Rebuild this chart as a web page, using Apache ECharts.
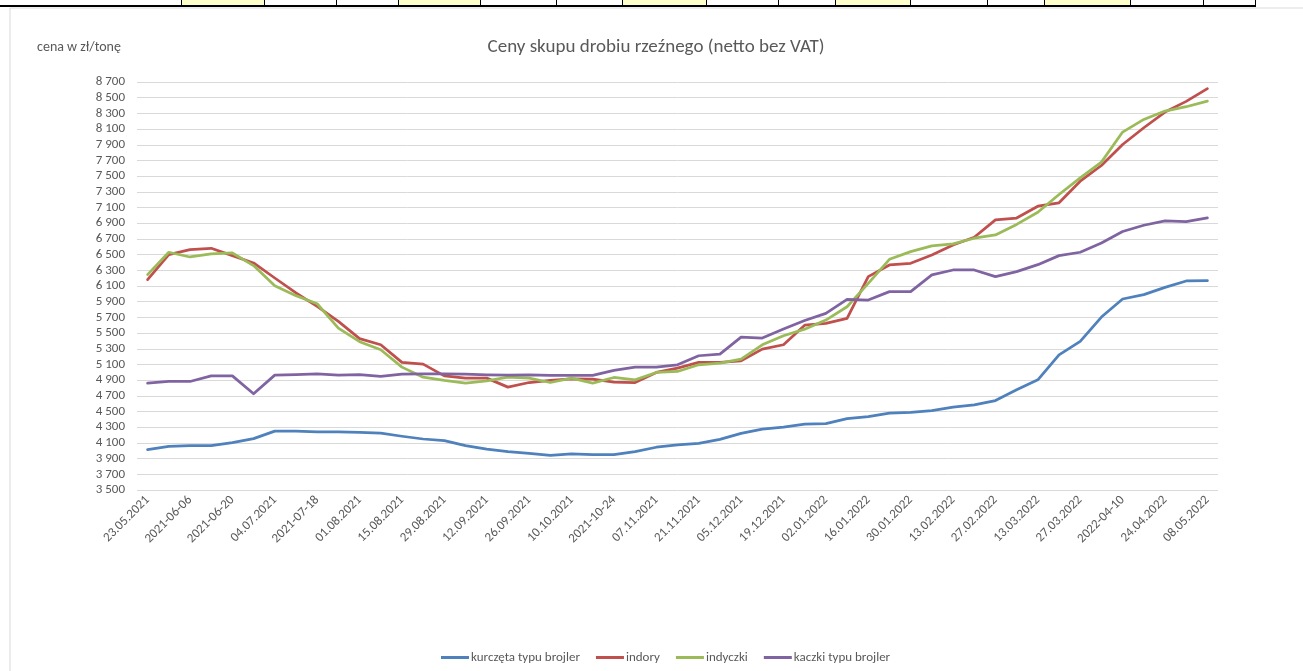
<!DOCTYPE html>
<html>
<head>
<meta charset="utf-8">
<script src="https://cdn.jsdelivr.net/npm/echarts@6/dist/echarts.min.js"></script>
<style>
  html, body { margin: 0; padding: 0; background: #fff; }
  #chart { width: 1303px; height: 671px; }
</style>
</head>
<body>
<div id="chart"></div>
<script>
const dates = [
  '23.05.2021', '30.05.2021', '2021-06-06', '13.06.2021', '2021-06-20', '27.06.2021',
  '04.07.2021', '11.07.2021', '2021-07-18', '25.07.2021', '01.08.2021', '08.08.2021',
  '15.08.2021', '22.08.2021', '29.08.2021', '05.09.2021', '12.09.2021', '19.09.2021',
  '26.09.2021', '03.10.2021', '10.10.2021', '17.10.2021', '2021-10-24', '31.10.2021',
  '07.11.2021', '14.11.2021', '21.11.2021', '28.11.2021', '05.12.2021', '12.12.2021',
  '19.12.2021', '26.12.2021', '02.01.2022', '09.01.2022', '16.01.2022', '23.01.2022',
  '30.01.2022', '06.02.2022', '13.02.2022', '20.02.2022', '27.02.2022', '06.03.2022',
  '13.03.2022', '20.03.2022', '27.03.2022', '03.04.2022', '2022-04-10', '17.04.2022',
  '24.04.2022', '01.05.2022', '08.05.2022'
];

const kurczeta = [
  4015, 4055, 4065, 4065, 4105, 4155, 4250, 4250, 4240, 4240, 4235, 4225, 4185,
  4150, 4130, 4065, 4020, 3990, 3968, 3940, 3960, 3952, 3952, 3990, 4045, 4075,
  4095, 4145, 4222, 4275, 4300, 4340, 4345, 4410, 4435, 4480, 4488, 4512, 4555,
  4585, 4640, 4778, 4904, 5222, 5394, 5704, 5934, 5990, 6083, 6164, 6168
];
const indory = [
  6181, 6500, 6564, 6581, 6487, 6394, 6202, 6011, 5840, 5649, 5430, 5351, 5126,
  5104, 4955, 4926, 4926, 4811, 4870, 4896, 4917, 4913, 4875, 4870, 4998, 5053,
  5126, 5126, 5147, 5296, 5351, 5600, 5624, 5687, 6219, 6368, 6389, 6496, 6623,
  6721, 6943, 6966, 7117, 7160, 7436, 7636, 7904, 8117, 8317, 8453, 8615
];
const indyczki = [
  6245, 6530, 6470, 6509, 6521, 6360, 6104, 5977, 5874, 5564, 5390, 5287, 5066,
  4938, 4896, 4862, 4892, 4938, 4926, 4870, 4926, 4862, 4934, 4904, 4998, 5011,
  5096, 5117, 5168, 5351, 5466, 5550, 5666, 5836, 6134, 6440, 6538, 6611, 6636,
  6709, 6751, 6885, 7040, 7266, 7479, 7679, 8062, 8223, 8330, 8385, 8457
];
const kaczki = [
  4862, 4883, 4883, 4955, 4955, 4726, 4964, 4972, 4981, 4964, 4970, 4947, 4977,
  4981, 4981, 4977, 4968, 4964, 4968, 4960, 4960, 4960, 5024, 5066, 5066, 5096,
  5211, 5232, 5449, 5436, 5551, 5660, 5751, 5930, 5921, 6028, 6028, 6241, 6304,
  6304, 6219, 6283, 6372, 6487, 6530, 6649, 6794, 6874, 6930, 6921, 6968
];

const seriesNames = ['kurczęta typu brojler', 'indory', 'indyczki', 'kaczki typu brojler'];
const colors = ['#4f81bd', '#c0504d', '#9bbb59', '#8064a2'];

const font = 'Carlito, "Liberation Sans Narrow", "Open Sans", sans-serif';
const txt = '#595959';

// spreadsheet row cut off above the chart
const cellEdges = [181, 264, 336, 398, 480, 556, 622, 706, 778, 835, 910, 987, 1044, 1130, 1203, 1255];
const yellowCells = [[181, 264], [398, 480], [622, 706], [835, 910], [1044, 1130]];

const graphics = [];
yellowCells.forEach(c => {
  graphics.push({ type: 'rect', shape: { x: c[0], y: 0, width: c[1] - c[0], height: 5 }, style: { fill: '#ffffcc' }, silent: true });
});
cellEdges.forEach(x => {
  graphics.push({ type: 'rect', shape: { x: x, y: 0, width: 1, height: 5 }, style: { fill: '#000' }, silent: true });
});
graphics.push({ type: 'rect', shape: { x: 0, y: 5, width: 1256, height: 2 }, style: { fill: '#000' }, silent: true });
// chart area border
graphics.push({ type: 'rect', shape: { x: 10, y: 8, width: 1320, height: 700 }, style: { fill: 'none', stroke: '#d9d9d9', lineWidth: 1 }, silent: true });

const chart = echarts.init(document.getElementById('chart'));
chart.setOption({
  animation: false,
  color: colors,
  textStyle: { fontFamily: font },
  graphic: graphics,
  title: [
    {
      text: 'Ceny skupu drobiu rzeźnego (netto bez VAT)',
      left: 651, top: 33, textAlign: 'center',
      textStyle: { fontSize: 19, fontWeight: 'normal', color: txt, fontFamily: font }
    },
    {
      text: 'cena w zł/tonę',
      left: 32, top: 35,
      textStyle: { fontSize: 14, fontWeight: 'normal', color: txt, fontFamily: font }
    }
  ],
  legend: {
    bottom: 2,
    left: 436,
    itemWidth: 28,
    itemHeight: 3,
    itemGap: 16,
    icon: 'rect',
    textStyle: { fontSize: 13, color: txt, fontFamily: font, padding: [0, 0, 0, -3] },
    data: seriesNames
  },
  grid: { left: 137, right: 85, top: 82, bottom: 181 },
  xAxis: {
    type: 'category',
    data: dates,
    boundaryGap: true,
    axisLine: { show: false },
    axisTick: { show: false },
    axisLabel: { interval: 1, rotate: 45, fontSize: 13, color: txt, margin: 8, fontFamily: font }
  },
  yAxis: {
    type: 'value',
    min: 3500,
    max: 8700,
    interval: 200,
    axisLine: { show: false },
    axisTick: { show: false },
    splitLine: { lineStyle: { color: '#d9d9d9', width: 1 } },
    axisLabel: {
      fontSize: 13, color: txt, margin: 12, fontFamily: font,
      formatter: v => String(v).replace(/\B(?=(\d{3})+(?!\d))/g, ' ')
    }
  },
  series: [kurczeta, indory, indyczki, kaczki].map((d, i) => ({
    name: seriesNames[i],
    type: 'line',
    data: d,
    symbol: 'none',
    lineStyle: { width: 2.75, color: colors[i], cap: 'round', join: 'round' },
    itemStyle: { color: colors[i] }
  }))
});
</script>
</body>
</html>
